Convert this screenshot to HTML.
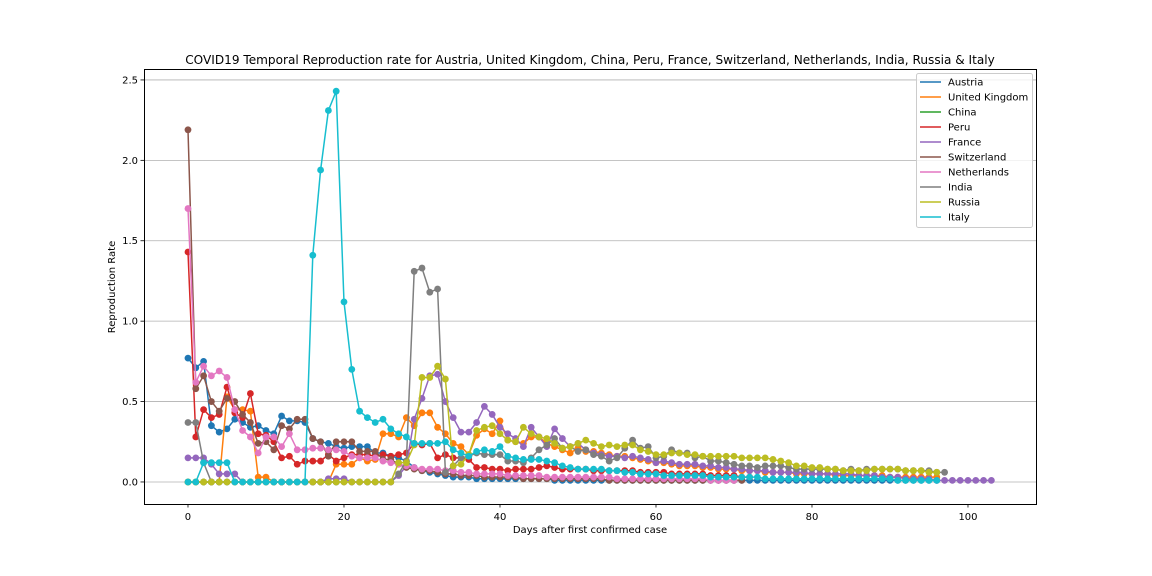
<!DOCTYPE html>
<html><head><meta charset="utf-8">
<style>
body{margin:0;background:#fff;}
svg{display:block;font-family:"DejaVu Sans","Liberation Sans",sans-serif;}
</style></head>
<body>
<svg id="chart" width="1152" height="576" viewBox="0 0 1152 576">
<rect width="1152" height="576" fill="#fff"/>
<text x="590" y="64" text-anchor="middle" font-size="12.1" fill="#000">COVID19 Temporal Reproduction rate for Austria, United Kingdom, China, Peru, France, Switzerland, Netherlands, India, Russia &amp; Italy</text>
<g id="grid"></g>
<g id="series"></g>
<rect x="144.5" y="69.5" width="892" height="435" fill="none" stroke="#000" stroke-width="1"/>
<g id="ticks"></g>
<text x="590" y="533" text-anchor="middle" font-size="10">Days after first confirmed case</text>
<text x="115" y="287" text-anchor="middle" font-size="10" transform="rotate(-90 115 287)">Reproduction Rate</text>
<g id="legend"></g>
</svg>
<script>
const countries = ["Austria","United Kingdom","China","Peru","France","Switzerland","Netherlands","India","Russia","Italy"];
const colors = ["#1f77b4","#ff7f0e","#2ca02c","#d62728","#9467bd","#8c564b","#e377c2","#7f7f7f","#bcbd22","#17becf"];
const xTicks = [0,20,40,60,80,100];
const yTicks = [0,0.5,1.0,1.5,2.0,2.5];
const yTickLabels = ["0.0","0.5","1.0","1.5","2.0","2.5"];

const austria = [0.77,0.71,0.75,0.35,0.31,0.33,0.39,0.37,0.34,0.35,0.32,0.30,0.41,0.38,0.38,0.37,0.27,0.25,0.24,0.22,0.21,0.22,0.22,0.22,0.18,0.18,0.16,0.15,0.13,0.09,0.07,0.06,0.05,0.04,0.03,0.03,0.03,0.02,0.02,0.02,0.02,0.02,0.02,0.02,0.02,0.02,0.02,0.01,0.01,0.01,0.01,0.01,0.01,0.01,0.01,0.01,0.01,0.01,0.01,0.01,0.01,0.01,0.01,0.01,0.01,0.01,0.01,0.01,0.01,0.01,0.01,0.01,0.01,0.01,0.01,0.01,0.01,0.01,0.01,0.01,0.01,0.01,0.01,0.01,0.01,0.01,0.01,0.01,0.01,0.01,0.01,0.01,0.01,0.01,0.01,0.01,0.01];
const uk = [0,0,0,0,0,0.53,0.45,0.45,0.44,0.03,0.03,0,0,0,0,0,0,0,0,0.11,0.11,0.11,0.15,0.13,0.14,0.30,0.30,0.28,0.40,0.35,0.43,0.43,0.34,0.30,0.24,0.22,0.17,0.29,0.33,0.30,0.38,0.26,0.25,0.24,0.28,0.28,0.24,0.22,0.20,0.18,0.21,0.19,0.19,0.18,0.17,0.16,0.16,0.15,0.14,0.13,0.12,0.12,0.11,0.10,0.10,0.10,0.09,0.09,0.08,0.08,0.08,0.07,0.07,0.07,0.06,0.06,0.06,0.06,0.05,0.05,0.05,0.05,0.05,0.04,0.04,0.04,0.04,0.04,0.04,0.04,0.03,0.03,0.03,0.03,0.03,0.03,0.03];
const china = [0,0,0,0,0,0,0,0,0,0,0,0,0,0,0,0,0,0,0,0];
const peru = [1.43,0.28,0.45,0.40,0.42,0.59,0.43,0.40,0.55,0.30,0.29,0.25,0.15,0.16,0.11,0.13,0.13,0.13,0.17,0.13,0.15,0.17,0.17,0.17,0.16,0.17,0.16,0.17,0.18,0.24,0.23,0.24,0.15,0.17,0.15,0.15,0.14,0.09,0.09,0.08,0.08,0.07,0.08,0.08,0.08,0.09,0.10,0.09,0.08,0.08,0.08,0.08,0.07,0.07,0.07,0.07,0.07,0.07,0.06,0.06,0.06,0.06,0.05,0.05,0.05,0.05,0.05,0.04,0.04,0.04,0.04,0.03,0.03];
const france = [0.15,0.15,0.15,0.11,0.05,0.05,0.05,0,0,0,0,0,0,0,0,0,0,0,0.02,0.02,0.02,0,0,0,0,0,0,0.04,0.10,0.39,0.52,0.66,0.67,0.50,0.40,0.31,0.31,0.37,0.47,0.42,0.34,0.30,0.27,0.22,0.34,0.28,0.22,0.33,0.27,0.22,0.24,0.20,0.18,0.17,0.16,0.16,0.15,0.16,0.15,0.14,0.12,0.13,0.12,0.11,0.11,0.11,0.10,0.10,0.09,0.09,0.08,0.08,0.07,0.07,0.07,0.06,0.06,0.06,0.06,0.06,0.05,0.05,0.05,0.05,0.05,0.05,0.04,0.04,0.04,0.03,0.03,0.03,0.02,0.02,0.02,0.02,0.01,0.01,0.01,0.01,0.01,0.01,0.01,0.01];
const switzerland = [2.19,0.58,0.66,0.50,0.44,0.52,0.50,0.42,0.37,0.24,0.25,0.20,0.35,0.33,0.39,0.39,0.27,0.25,0.16,0.25,0.25,0.25,0.19,0.19,0.19,0.14,0.14,0.11,0.09,0.08,0.07,0.07,0.06,0.05,0.05,0.04,0.04,0.04,0.03,0.03,0.03,0.03,0.03,0.02,0.02,0.02,0.02,0.02,0.02,0.02,0.02,0.02,0.02,0.02,0.01,0.01,0.01,0.01,0.01,0.01,0.01,0.01,0.01,0.01,0.01,0.01,0.01,0.01,0.01,0.01,0.01,0.01];
const netherlands = [1.70,0.62,0.72,0.66,0.69,0.65,0.45,0.32,0.28,0.18,0.28,0.28,0.22,0.30,0.20,0.20,0.21,0.21,0.20,0.20,0.19,0.16,0.15,0.15,0.15,0.13,0.12,0.11,0.10,0.09,0.08,0.08,0.08,0.07,0.07,0.06,0.06,0.05,0.05,0.05,0.05,0.04,0.04,0.04,0.04,0.04,0.03,0.03,0.03,0.03,0.03,0.03,0.03,0.03,0.03,0.02,0.02,0.02,0.02,0.02,0.02,0.02,0.02,0.02,0.02,0.02,0.02,0.01,0.01,0.01,0.01];
const india = [0.37,0.37,0.12,0,0,0,0,0,0,0,0,0,0,0,0,0,0,0,0,0,0,0,0,0,0,0,0,0.05,0.13,1.31,1.33,1.18,1.20,0.06,0.10,0.15,0.16,0.18,0.17,0.17,0.17,0.13,0.13,0.12,0.15,0.20,0.23,0.27,0.21,0.22,0.19,0.20,0.17,0.16,0.13,0.15,0.21,0.26,0.21,0.22,0.15,0.16,0.20,0.18,0.18,0.15,0.16,0.13,0.13,0.12,0.11,0.10,0.10,0.09,0.10,0.10,0.10,0.09,0.08,0.08,0.08,0.08,0.08,0.08,0.07,0.08,0.07,0.08,0.08,0.08,0.08,0.08,0.07,0.07,0.07,0.07,0.06,0.06];
const russia = [0,0,0,0,0,0,0,0,0,0,0,0,0,0,0,0,0,0,0,0,0,0,0,0,0,0,0,0.12,0.12,0.23,0.65,0.65,0.72,0.64,0.10,0.11,0.17,0.32,0.34,0.35,0.30,0.26,0.25,0.34,0.30,0.28,0.27,0.24,0.21,0.22,0.24,0.26,0.24,0.22,0.23,0.22,0.23,0.23,0.20,0.19,0.17,0.17,0.18,0.18,0.17,0.17,0.16,0.16,0.16,0.16,0.16,0.15,0.15,0.15,0.15,0.14,0.13,0.12,0.10,0.10,0.09,0.09,0.08,0.08,0.07,0.07,0.07,0.07,0.08,0.08,0.08,0.08,0.07,0.07,0.07,0.06,0.06];
const italy = [0,0,0.12,0.12,0.12,0.12,0,0,0,0,0,0,0,0,0,0,1.41,1.94,2.31,2.43,1.12,0.70,0.44,0.40,0.37,0.39,0.33,0.30,0.28,0.24,0.24,0.24,0.24,0.25,0.20,0.18,0.16,0.19,0.20,0.19,0.22,0.16,0.15,0.14,0.14,0.14,0.13,0.12,0.10,0.09,0.08,0.08,0.08,0.08,0.07,0.07,0.06,0.06,0.05,0.05,0.05,0.04,0.04,0.04,0.04,0.04,0.04,0.03,0.03,0.03,0.03,0.03,0.03,0.03,0.02,0.02,0.02,0.02,0.02,0.02,0.02,0.02,0.02,0.02,0.02,0.02,0.02,0.02,0.02,0.02,0.02,0.01,0.01,0.01,0.01,0.01,0.01];

const seriesData = [austria,uk,china,peru,france,switzerland,netherlands,india,russia,italy];

const NS = "http://www.w3.org/2000/svg";
const X0 = 144, X1 = 1036, Y0 = 69, Y1 = 504;
const xMin = -5.64, xMax = 108.72, yMin = -0.137, yMax = 2.568;
function xs(v){ return X0 + (v - xMin) / (xMax - xMin) * (X1 - X0); }
function ys(v){ return Y1 - (v - yMin) / (yMax - yMin) * (Y1 - Y0); }
function mk(tag, attrs, parent){ const e = document.createElementNS(NS, tag); for (const k in attrs) e.setAttribute(k, attrs[k]); parent.appendChild(e); return e; }

const grid = document.getElementById("grid");
const ticks = document.getElementById("ticks");
yTicks.forEach((t, i) => {
  const y = ys(t);
  const gl = mk("line", {x1:X0, x2:X1, y1:y, y2:y, stroke:"#b0b0b0", "stroke-width":0.8}, grid);
  
  
  const tk = mk("line", {x1:X0-3.5, x2:X0, y1:y, y2:y, stroke:"#000", "stroke-width":0.8}, ticks);
  
  
  const tl = mk("text", {x:X0-6, y:y+3.5, "text-anchor":"end", "font-size":10}, ticks);
  tl.textContent = yTickLabels[i];
  
  
});
xTicks.forEach(t => {
  const x = xs(t);
  const tk = mk("line", {x1:x, x2:x, y1:Y1, y2:Y1+3.5, stroke:"#000", "stroke-width":0.8}, ticks);
  
  
  const tl = mk("text", {x:x, y:Y1+16, "text-anchor":"middle", "font-size":10}, ticks);
  tl.textContent = String(t);
  
  
});

const sg = document.getElementById("series");
seriesData.forEach((arr, si) => {
  const g = mk("g", {}, sg);
  
  
  const pts = arr.map((v, i) => xs(i).toFixed(2) + "," + ys(v).toFixed(2)).join(" ");
  const pl = mk("polyline", {points:pts, fill:"none", stroke:colors[si], "stroke-width":1.5, "stroke-linejoin":"round"}, g);
  
  
  arr.forEach((v, i) => {
    const c = mk("circle", {cx:xs(i), cy:ys(v), r:3.4, fill:colors[si]}, g);
    
    
  });
});

const lg = document.getElementById("legend");
const box = mk("rect", {x:916.5, y:73.5, width:116, height:154, rx:2, fill:"#fff", "fill-opacity":0.8, stroke:"#ccc", "stroke-width":1}, lg);


countries.forEach((c, i) => {
  const y = 82 + i * 15;
  const e = mk("g", {}, lg);
  
  
  mk("line", {x1:920, x2:941, y1:y, y2:y, stroke:colors[i], "stroke-width":1.5}, e);
  const t = mk("text", {x:948, y:y+3.5, "font-size":10}, e);
  t.textContent = c;
});
</script>
</body></html>
